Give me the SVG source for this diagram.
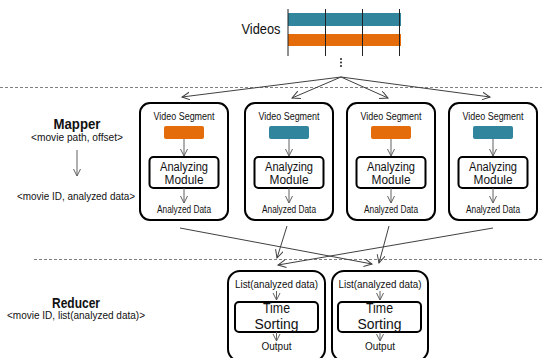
<svg xmlns="http://www.w3.org/2000/svg" width="542" height="358" viewBox="0 0 542 358">
<defs>
<marker id="ah" markerWidth="10" markerHeight="10" refX="8" refY="4" orient="auto" markerUnits="userSpaceOnUse">
<path d="M0,0 L8,4 L0,8" fill="none" stroke="#404040" stroke-width="1"/>
</marker>
<marker id="ahg" markerWidth="10" markerHeight="10" refX="7" refY="4" orient="auto" markerUnits="userSpaceOnUse">
<path d="M0,0.5 L7,4 L0,7.5" fill="none" stroke="#606060" stroke-width="1"/>
</marker>
<style>
text{font-family:"Liberation Sans","Noto Sans",sans-serif;fill:#111;text-anchor:middle}
.box{fill:#fff;stroke:#000;stroke-width:2}
.mod{fill:#fff;stroke:#000;stroke-width:2}
.sm{font-size:10px}
.md{font-size:12.5px}
.big{font-size:14px}
.lbl{font-size:10px}
.fan{stroke:#404040;stroke-width:1;fill:none;marker-end:url(#ah)}
.in{stroke:#606060;stroke-width:1;fill:none;marker-end:url(#ahg)}
.dash{stroke:#808080;stroke-width:1;stroke-dasharray:3,2}
.teal{fill:#31859C}
.orng{fill:#E46C0A}
</style>
</defs>

<g id="videos">
<text x="261" y="34" style="font-size:14.5px" textLength="39" lengthAdjust="spacingAndGlyphs">Videos</text>
<rect x="288" y="13" width="113" height="13" class="teal"/>
<rect x="288" y="34" width="113" height="12" class="orng"/>
<g stroke="#222" stroke-width="1">
<line x1="288" y1="9" x2="288" y2="56"/>
<line x1="325.5" y1="9" x2="325.5" y2="56"/>
<line x1="362.5" y1="9" x2="362.5" y2="56"/>
<line x1="399.5" y1="9" x2="399.5" y2="56"/>
</g>
<g fill="#222"><circle cx="341" cy="59" r="1"/><circle cx="341" cy="62.5" r="1"/><circle cx="341" cy="66" r="1"/></g>
</g>

<line class="dash" x1="0" y1="87.5" x2="542" y2="87.5"/>
<line class="dash" x1="34" y1="259.5" x2="542" y2="259.5"/>

<g id="mapper-label">
<text x="77" y="129" style="font-size:15.5px;font-weight:bold" textLength="47" lengthAdjust="spacingAndGlyphs">Mapper</text>
<text x="77" y="141" class="lbl" textLength="92" lengthAdjust="spacingAndGlyphs">&lt;movie path, offset&gt;</text>
<line x1="77" y1="150" x2="77" y2="176" class="in"/>
<text x="76" y="200" class="lbl" textLength="118" lengthAdjust="spacingAndGlyphs">&lt;movie ID, analyzed data&gt;</text>
</g>

<g id="reducer-label">
<text x="76" y="308" style="font-size:15.5px;font-weight:bold" textLength="48" lengthAdjust="spacingAndGlyphs">Reducer</text>
<text x="76" y="319" class="lbl" textLength="138" lengthAdjust="spacingAndGlyphs">&lt;movie ID, list(analyzed data)&gt;</text>
</g>

<g id="mapper1">
<rect class="box" x="140" y="103" width="88" height="117" rx="10"/>
<text x="184" y="119.5" class="sm" textLength="61" lengthAdjust="spacingAndGlyphs">Video Segment</text>
<rect x="164" y="126" width="40" height="13" rx="2" class="orng"/>
<line class="in" x1="184" y1="139" x2="184" y2="156"/>
<rect class="mod" x="149.5" y="157" width="69" height="31" rx="4"/>
<text x="184" y="170.5" class="md" textLength="48" lengthAdjust="spacingAndGlyphs">Analyzing</text>
<text x="184" y="183.5" class="md" textLength="39" lengthAdjust="spacingAndGlyphs">Module</text>
<line class="in" x1="184" y1="188" x2="184" y2="203"/>
<text x="184" y="213" class="sm" textLength="54" lengthAdjust="spacingAndGlyphs">Analyzed Data</text>
</g>

<g id="mapper2">
<rect class="box" x="245" y="103" width="88" height="117" rx="10"/>
<text x="289" y="119.5" class="sm" textLength="61" lengthAdjust="spacingAndGlyphs">Video Segment</text>
<rect x="269" y="126" width="40" height="13" rx="2" class="teal"/>
<line class="in" x1="289" y1="139" x2="289" y2="156"/>
<rect class="mod" x="254.5" y="157" width="69" height="31" rx="4"/>
<text x="289" y="170.5" class="md" textLength="48" lengthAdjust="spacingAndGlyphs">Analyzing</text>
<text x="289" y="183.5" class="md" textLength="39" lengthAdjust="spacingAndGlyphs">Module</text>
<line class="in" x1="289" y1="188" x2="289" y2="203"/>
<text x="289" y="213" class="sm" textLength="54" lengthAdjust="spacingAndGlyphs">Analyzed Data</text>
</g>

<g id="mapper3">
<rect class="box" x="347" y="103" width="88" height="117" rx="10"/>
<text x="391" y="119.5" class="sm" textLength="61" lengthAdjust="spacingAndGlyphs">Video Segment</text>
<rect x="371" y="126" width="40" height="13" rx="2" class="orng"/>
<line class="in" x1="391" y1="139" x2="391" y2="156"/>
<rect class="mod" x="356.5" y="157" width="69" height="31" rx="4"/>
<text x="391" y="170.5" class="md" textLength="48" lengthAdjust="spacingAndGlyphs">Analyzing</text>
<text x="391" y="183.5" class="md" textLength="39" lengthAdjust="spacingAndGlyphs">Module</text>
<line class="in" x1="391" y1="188" x2="391" y2="203"/>
<text x="391" y="213" class="sm" textLength="54" lengthAdjust="spacingAndGlyphs">Analyzed Data</text>
</g>

<g id="mapper4">
<rect class="box" x="449" y="103" width="88" height="117" rx="10"/>
<text x="493" y="119.5" class="sm" textLength="61" lengthAdjust="spacingAndGlyphs">Video Segment</text>
<rect x="473" y="126" width="40" height="13" rx="2" class="teal"/>
<line class="in" x1="493" y1="139" x2="493" y2="156"/>
<rect class="mod" x="458.5" y="157" width="69" height="31" rx="4"/>
<text x="493" y="170.5" class="md" textLength="48" lengthAdjust="spacingAndGlyphs">Analyzing</text>
<text x="493" y="183.5" class="md" textLength="39" lengthAdjust="spacingAndGlyphs">Module</text>
<line class="in" x1="493" y1="188" x2="493" y2="203"/>
<text x="493" y="213" class="sm" textLength="54" lengthAdjust="spacingAndGlyphs">Analyzed Data</text>
</g>

<g id="reducer1">
<rect class="box" x="228" y="271" width="97" height="90" rx="12"/>
<text x="276.5" y="288" class="sm" textLength="83" lengthAdjust="spacingAndGlyphs">List(analyzed  data)</text>
<line class="in" x1="276.5" y1="291" x2="276.5" y2="300"/>
<rect class="mod" x="235" y="302" width="83" height="30" rx="4"/>
<text x="276.5" y="313" class="big" textLength="27" lengthAdjust="spacingAndGlyphs">Time</text>
<text x="276.5" y="328.5" class="big" textLength="44" lengthAdjust="spacingAndGlyphs">Sorting</text>
<line class="in" x1="276.5" y1="332" x2="276.5" y2="341"/>
<text x="276.5" y="350" class="sm" textLength="30" lengthAdjust="spacingAndGlyphs">Output</text>
</g>

<g id="reducer2">
<rect class="box" x="332" y="271" width="96" height="90" rx="12"/>
<text x="380" y="288" class="sm" textLength="83" lengthAdjust="spacingAndGlyphs">List(analyzed  data)</text>
<line class="in" x1="380" y1="291" x2="380" y2="300"/>
<rect class="mod" x="338" y="302" width="83" height="30" rx="4"/>
<text x="379.5" y="313" class="big" textLength="27" lengthAdjust="spacingAndGlyphs">Time</text>
<text x="379.5" y="328.5" class="big" textLength="44" lengthAdjust="spacingAndGlyphs">Sorting</text>
<line class="in" x1="380" y1="332" x2="380" y2="341"/>
<text x="380" y="350" class="sm" textLength="30" lengthAdjust="spacingAndGlyphs">Output</text>
</g>

<g id="connectors">
<line class="fan" x1="341" y1="77" x2="182" y2="97"/>
<line class="fan" x1="341" y1="77" x2="292" y2="98"/>
<line class="fan" x1="341" y1="77" x2="388" y2="98"/>
<line class="fan" x1="341" y1="77" x2="490" y2="97"/>
<line class="fan" x1="180" y1="228" x2="372" y2="264"/>
<line class="fan" x1="287" y1="226" x2="277" y2="258"/>
<line class="fan" x1="389" y1="226" x2="379" y2="263"/>
<line class="fan" x1="493" y1="228" x2="278" y2="265"/>
</g>
</svg>
